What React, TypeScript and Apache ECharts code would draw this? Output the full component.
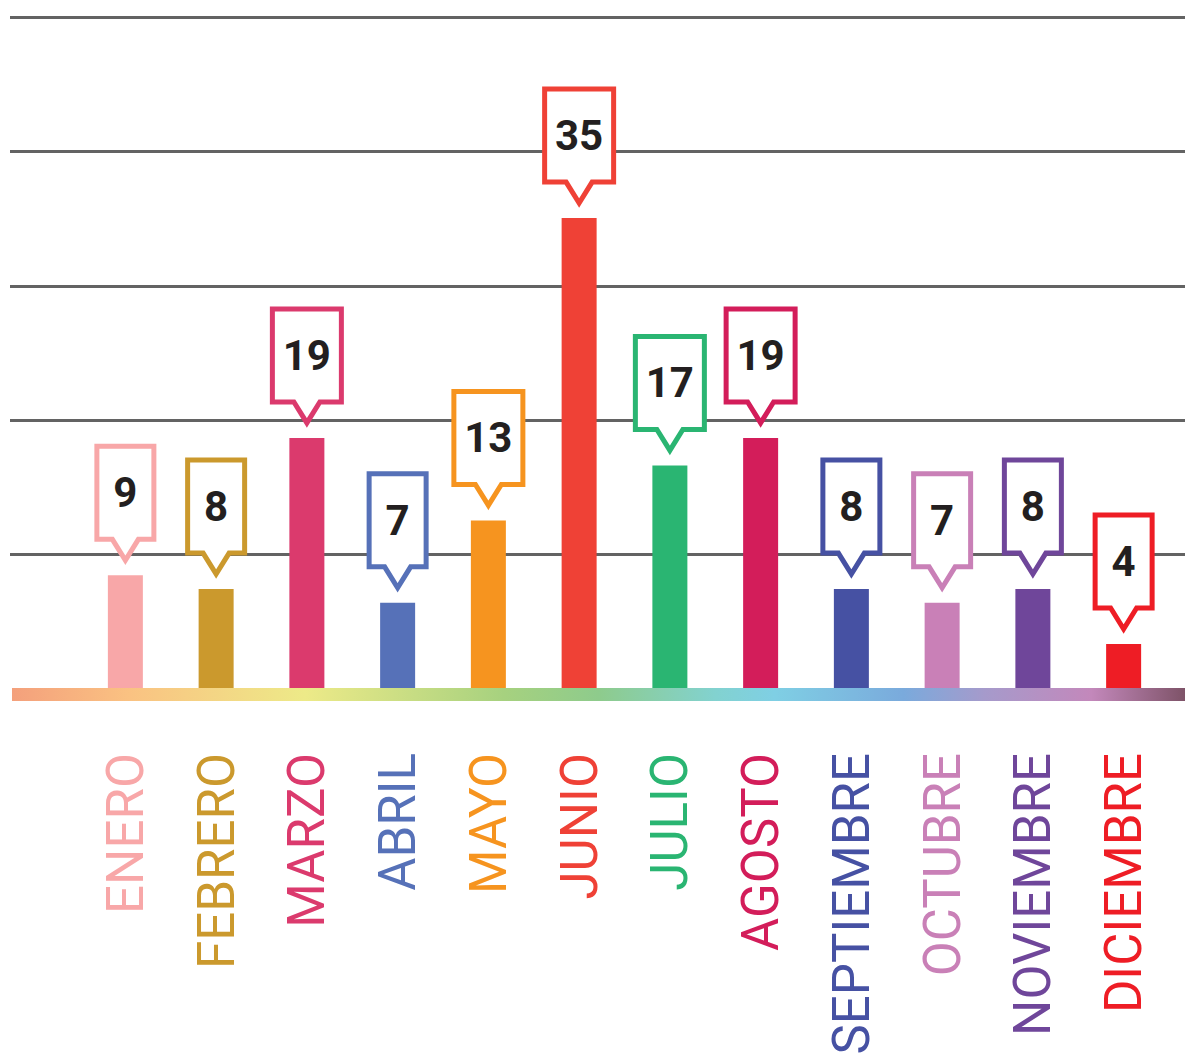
import React, { useEffect, useRef } from "react";
import * as echarts from "echarts";

const categories = [
  "ENERO", "FEBRERO", "MARZO", "ABRIL", "MAYO", "JUNIO",
  "JULIO", "AGOSTO", "SEPTIEMBRE", "OCTUBRE", "NOVIEMBRE", "DICIEMBRE",
];
const values = [9, 8, 19, 7, 13, 35, 17, 19, 8, 7, 8, 4];
const colors = [
  "#F8A7A8", "#CB992D", "#DB3A6D", "#5671B8", "#F6941F", "#EF4136",
  "#2AB572", "#D31D5A", "#4651A3", "#C980B7", "#6F469A", "#EE1D25",
];
const gridTicks = [0, 10, 20, 30, 40, 50];

const bandStops = [
  { offset: 0, color: "#F4A07C" },
  { offset: 0.1, color: "#FAC282" },
  { offset: 0.25, color: "#EDEA88" },
  { offset: 0.42, color: "#A6D17F" },
  { offset: 0.5, color: "#8ECB8C" },
  { offset: 0.6, color: "#82D2D0" },
  { offset: 0.65, color: "#7FCFE4" },
  { offset: 0.76, color: "#7AAADC" },
  { offset: 0.83, color: "#A69ACB" },
  { offset: 0.92, color: "#C388BB" },
  { offset: 1, color: "#7E5368" },
];

export default function App() {
  const ref = useRef<HTMLDivElement>(null);
  useEffect(() => {
    if (!ref.current) return;
    const chart = echarts.init(ref.current, null, { renderer: "svg" });
    const option: any = {
      animation: false,
      backgroundColor: "#ffffff",
      grid: [
        { left: 10, right: 0, top: 17.5, bottom: 368.5, outerBoundsMode: "none", containLabel: false },
        { left: 80, right: 16, top: 12, bottom: 358, outerBoundsMode: "none", containLabel: false },
      ],
      xAxis: [
        { type: "value", gridIndex: 0, show: false, min: 0, max: 1 },
        {
          type: "category",
          gridIndex: 1,
          data: categories,
          axisLine: { show: false },
          axisTick: { show: false },
          axisLabel: {
            interval: 0,
            rotate: 90,
            margin: 54,
            fontSize: 51,
            fontFamily: "Roboto",
            fontWeight: "normal",
            color: (_v: any, i: number) => colors[i],
          },
        },
      ],
      yAxis: [
        {
          type: "value",
          gridIndex: 0,
          min: gridTicks[0],
          max: gridTicks[gridTicks.length - 1],
          interval: 10,
          axisLine: { show: false },
          axisTick: { show: false },
          axisLabel: { show: false },
          splitLine: {
            show: true,
            lineStyle: {
              color: gridTicks.map((t) => (t === 0 ? "rgba(0,0,0,0)" : "#636363")),
              width: 3,
            },
          },
        },
        {
          type: "value",
          gridIndex: 1,
          min: 0,
          max: 50,
          show: false,
          splitLine: { show: false },
        },
      ],
      series: [
        {
          type: "bar",
          xAxisIndex: 1,
          yAxisIndex: 1,
          data: values,
          barWidth: 35,
          itemStyle: { color: (p: any) => colors[p.dataIndex] },
          z: 2,
        },
        {
          type: "custom",
          xAxisIndex: 1,
          yAxisIndex: 1,
          z: 5,
          data: values.map((v, i) => [i, v]),
          encode: { x: 0, y: 1 },
          renderItem: (params: any, api: any) => {
            const i = params.dataIndex;
            const pt = api.coord([api.value(0), api.value(1)]);
            const cx = pt[0];
            const top = pt[1];
            const label = String(values[i]);
            const half = (label.length > 1 ? 74 : 62) / 2 - 2.5;
            const tipY = top - 15;
            const bot = tipY - 21;
            const boxTop = bot - 93;
            const w = 13;
            return {
              type: "group",
              children: [
                {
                  type: "polygon",
                  shape: {
                    points: [
                      [cx - half, boxTop],
                      [cx + half, boxTop],
                      [cx + half, bot],
                      [cx + w, bot],
                      [cx, tipY],
                      [cx - w, bot],
                      [cx - half, bot],
                    ],
                  },
                  style: {
                    fill: "#ffffff",
                    stroke: colors[i],
                    lineWidth: 5,
                    lineJoin: "miter",
                  },
                },
                {
                  type: "text",
                  style: {
                    text: label,
                    x: cx,
                    y: (boxTop + bot) / 2,
                    align: "center",
                    verticalAlign: "middle",
                    fontSize: 42,
                    fontWeight: "bold",
                    fontFamily: "Roboto",
                    fill: "#231F20",
                  },
                },
              ],
            };
          },
        },
      ],
      graphic: [
        {
          type: "rect",
          z: 100,
          shape: { x: 12, y: 688, width: 1173, height: 13 },
          style: {
            fill: new echarts.graphic.LinearGradient(0, 0, 1, 0, bandStops),
          },
        },
      ],
    };
    chart.setOption(option);
    return () => chart.dispose();
  }, []);
  return (
    <div
      ref={ref}
      style={{ position: "fixed", left: 0, top: 0, width: 1185, height: 1057 }}
    />
  );
}
